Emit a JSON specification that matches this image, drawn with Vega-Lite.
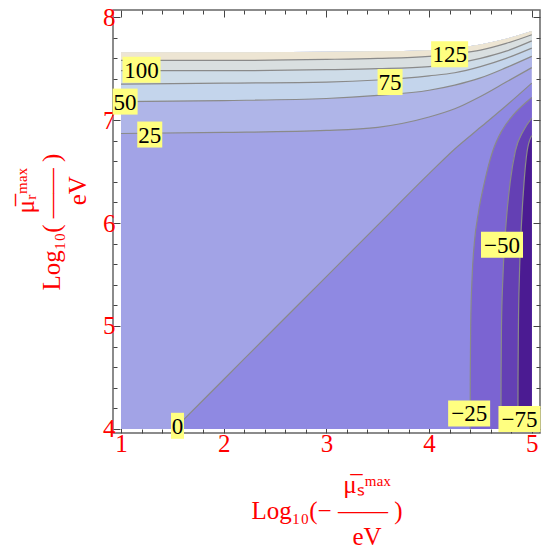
{
  "$schema": "https://vega.github.io/schema/vega-lite/v6.json",
  "width": 427,
  "height": 423,
  "autosize": {"type": "none"},
  "padding": {"left": 113, "top": 10, "right": 5, "bottom": 117},
  "background": "white",
  "config": {
    "view": {"stroke": "#666666", "strokeWidth": 1.5},
    "axis": {"grid": false, "labelFlush": false, "labelOverlap": false, "labelBound": false}
  },
  "resolve": {"axis": {"x": "independent", "y": "independent"}},
  "datasets": {
    "v": [
      {"band": 0, "x": 1, "lo": 4, "hi": 7.66},
      {"band": 0, "x": 2, "lo": 4, "hi": 7.66},
      {"band": 0, "x": 3, "lo": 4, "hi": 7.665},
      {"band": 0, "x": 3.5, "lo": 4, "hi": 7.67},
      {"band": 0, "x": 4, "lo": 4, "hi": 7.68},
      {"band": 0, "x": 4.25, "lo": 4, "hi": 7.70},
      {"band": 0, "x": 4.5, "lo": 4, "hi": 7.735},
      {"band": 0, "x": 4.75, "lo": 4, "hi": 7.79},
      {"band": 0, "x": 5, "lo": 4, "hi": 7.865},
      {"band": 25, "x": 1, "lo": 6.87, "hi": 7.66},
      {"band": 25, "x": 2, "lo": 6.88, "hi": 7.66},
      {"band": 25, "x": 3, "lo": 6.90, "hi": 7.665},
      {"band": 25, "x": 3.5, "lo": 6.93, "hi": 7.67},
      {"band": 25, "x": 4, "lo": 7.03, "hi": 7.68},
      {"band": 25, "x": 4.25, "lo": 7.11, "hi": 7.70},
      {"band": 25, "x": 4.5, "lo": 7.23, "hi": 7.735},
      {"band": 25, "x": 4.75, "lo": 7.37, "hi": 7.79},
      {"band": 25, "x": 5, "lo": 7.51, "hi": 7.865},
      {"band": 50, "x": 1, "lo": 7.18, "hi": 7.66},
      {"band": 50, "x": 2, "lo": 7.19, "hi": 7.66},
      {"band": 50, "x": 3, "lo": 7.21, "hi": 7.665},
      {"band": 50, "x": 3.5, "lo": 7.24, "hi": 7.67},
      {"band": 50, "x": 4, "lo": 7.29, "hi": 7.68},
      {"band": 50, "x": 4.25, "lo": 7.34, "hi": 7.70},
      {"band": 50, "x": 4.5, "lo": 7.41, "hi": 7.735},
      {"band": 50, "x": 4.75, "lo": 7.51, "hi": 7.79},
      {"band": 50, "x": 5, "lo": 7.62, "hi": 7.865},
      {"band": 75, "x": 1, "lo": 7.35, "hi": 7.66},
      {"band": 75, "x": 2, "lo": 7.36, "hi": 7.66},
      {"band": 75, "x": 3, "lo": 7.37, "hi": 7.665},
      {"band": 75, "x": 3.5, "lo": 7.39, "hi": 7.67},
      {"band": 75, "x": 4, "lo": 7.43, "hi": 7.68},
      {"band": 75, "x": 4.25, "lo": 7.46, "hi": 7.70},
      {"band": 75, "x": 4.5, "lo": 7.52, "hi": 7.735},
      {"band": 75, "x": 4.75, "lo": 7.60, "hi": 7.79},
      {"band": 75, "x": 5, "lo": 7.70, "hi": 7.865},
      {"band": 100, "x": 1, "lo": 7.48, "hi": 7.66},
      {"band": 100, "x": 2, "lo": 7.48, "hi": 7.66},
      {"band": 100, "x": 3, "lo": 7.49, "hi": 7.665},
      {"band": 100, "x": 3.5, "lo": 7.50, "hi": 7.67},
      {"band": 100, "x": 4, "lo": 7.52, "hi": 7.68},
      {"band": 100, "x": 4.25, "lo": 7.55, "hi": 7.70},
      {"band": 100, "x": 4.5, "lo": 7.60, "hi": 7.735},
      {"band": 100, "x": 4.75, "lo": 7.67, "hi": 7.79},
      {"band": 100, "x": 5, "lo": 7.77, "hi": 7.865},
      {"band": 125, "x": 1, "lo": 7.58, "hi": 7.66},
      {"band": 125, "x": 2, "lo": 7.58, "hi": 7.66},
      {"band": 125, "x": 3, "lo": 7.59, "hi": 7.665},
      {"band": 125, "x": 3.5, "lo": 7.60, "hi": 7.67},
      {"band": 125, "x": 4, "lo": 7.62, "hi": 7.68},
      {"band": 125, "x": 4.25, "lo": 7.645, "hi": 7.70},
      {"band": 125, "x": 4.5, "lo": 7.68, "hi": 7.735},
      {"band": 125, "x": 4.75, "lo": 7.745, "hi": 7.79},
      {"band": 125, "x": 5, "lo": 7.83, "hi": 7.865},
      {"band": -25, "x": 1.52, "lo": 4, "hi": 4.0},
      {"band": -25, "x": 2, "lo": 4, "hi": 4.48},
      {"band": -25, "x": 2.5, "lo": 4, "hi": 4.98},
      {"band": -25, "x": 3, "lo": 4, "hi": 5.48},
      {"band": -25, "x": 3.5, "lo": 4, "hi": 5.98},
      {"band": -25, "x": 4, "lo": 4, "hi": 6.48},
      {"band": -25, "x": 4.25, "lo": 4, "hi": 6.72},
      {"band": -25, "x": 4.5, "lo": 4, "hi": 6.93},
      {"band": -25, "x": 4.75, "lo": 4, "hi": 7.14},
      {"band": -25, "x": 5, "lo": 4, "hi": 7.36}
    ],
    "h": [
      {"band": -50, "y": 4.0, "x": 4.400},
      {"band": -50, "y": 4.5, "x": 4.401},
      {"band": -50, "y": 5.0, "x": 4.405},
      {"band": -50, "y": 5.5, "x": 4.42},
      {"band": -50, "y": 5.8, "x": 4.44},
      {"band": -50, "y": 6.1, "x": 4.48},
      {"band": -50, "y": 6.4, "x": 4.54},
      {"band": -50, "y": 6.7, "x": 4.62},
      {"band": -50, "y": 6.9, "x": 4.71},
      {"band": -50, "y": 7.05, "x": 4.82},
      {"band": -50, "y": 7.22, "x": 5.0},
      {"band": -75, "y": 4.0, "x": 4.700},
      {"band": -75, "y": 4.5, "x": 4.701},
      {"band": -75, "y": 5.0, "x": 4.705},
      {"band": -75, "y": 5.5, "x": 4.72},
      {"band": -75, "y": 6.0, "x": 4.75},
      {"band": -75, "y": 6.4, "x": 4.79},
      {"band": -75, "y": 6.7, "x": 4.84},
      {"band": -75, "y": 6.9, "x": 4.92},
      {"band": -75, "y": 7.02, "x": 5.0},
      {"band": -100, "y": 4.0, "x": 4.865},
      {"band": -100, "y": 4.5, "x": 4.866},
      {"band": -100, "y": 5.0, "x": 4.87},
      {"band": -100, "y": 5.5, "x": 4.88},
      {"band": -100, "y": 6.0, "x": 4.90},
      {"band": -100, "y": 6.4, "x": 4.925},
      {"band": -100, "y": 6.7, "x": 4.955},
      {"band": -100, "y": 6.85, "x": 5.0}
    ],
    "labels": [
      {"label": "125", "x": 4.20, "y": 7.64},
      {"label": "100", "x": 1.20, "y": 7.49},
      {"label": "75", "x": 3.62, "y": 7.37},
      {"label": "50", "x": 1.04, "y": 7.18},
      {"label": "25", "x": 1.28, "y": 6.86},
      {"label": "0", "x": 1.55, "y": 4.03},
      {"label": "−25", "x": 4.39, "y": 4.15},
      {"label": "−50", "x": 4.71, "y": 5.79},
      {"label": "−75", "x": 4.88, "y": 4.095}
    ]
  },
  "layer": [
    {
      "data": {"name": "v"},
      "transform": [{"filter": "datum.band == 0"}],
      "mark": {"type": "area", "interpolate": "monotone", "color": "#a2a3e6", "opacity": 1},
      "encoding": {
        "x": {"field": "x", "type": "quantitative", "scale": {"domain": [0.922, 5.08], "nice": false, "zero": false},
          "axis": {"orient": "bottom", "values": [1, 2, 3, 4, 5], "format": "d", "domain": false, "tickSize": -7, "tickColor": "#444444", "tickWidth": 1,
            "labelColor": "#ff0000", "labelFont": "Liberation Serif, Times New Roman, Times, serif", "labelFontSize": 25, "labelPadding": 5,
            "title": ["\u200d\u2003\u2003\u2003\u2009μ̅ₛᵐᵃˣ", "Log₁₀(− —— )", "\u200d\u2003\u2003\u2003\u2009eV"],
            "titleColor": "#ff0000", "titleFont": "Liberation Serif, Times New Roman, Times, serif", "titleFontSize": 25, "titleFontWeight": "normal", "titleLineHeight": 26, "titlePadding": 16}},
        "y": {"field": "hi", "type": "quantitative", "scale": {"domain": [3.96, 8.07], "nice": false, "zero": false},
          "axis": {"orient": "left", "values": [4, 5, 6, 7, 8], "format": "d", "domain": false, "tickSize": -7, "tickColor": "#444444", "tickWidth": 1,
            "labelColor": "#ff0000", "labelFont": "Liberation Serif, Times New Roman, Times, serif", "labelFontSize": 25, "labelPadding": 5,
            "title": ["\u200d\u2003\u2003\u2002μ̅ᵣᵐᵃˣ", "Log₁₀( —— )", "\u200d\u2003\u2003\u2002eV"],
            "titleColor": "#ff0000", "titleFont": "Liberation Serif, Times New Roman, Times, serif", "titleFontSize": 25, "titleFontWeight": "normal", "titleLineHeight": 26, "titlePadding": 12}},
        "y2": {"field": "lo"}
      }
    },
    {
      "data": {"name": "v"},
      "transform": [{"filter": "datum.band == 25"}],
      "mark": {"type": "area", "interpolate": "monotone", "color": "#afb5e8", "opacity": 1},
      "encoding": {
        "x": {"field": "x", "type": "quantitative", "scale": {"domain": [0.922, 5.08], "nice": false, "zero": false},
          "axis": {"orient": "bottom", "values": [1.2, 1.4, 1.6, 1.8, 2.2, 2.4, 2.6, 2.8, 3.2, 3.4, 3.6, 3.8, 4.2, 4.4, 4.6, 4.8], "labels": false, "domain": false, "tickSize": -4, "tickColor": "#444444", "tickWidth": 1, "title": null}},
        "y": {"field": "hi", "type": "quantitative", "scale": {"domain": [3.96, 8.07], "nice": false, "zero": false},
          "axis": {"orient": "left", "values": [4.2, 4.4, 4.6, 4.8, 5.2, 5.4, 5.6, 5.8, 6.2, 6.4, 6.6, 6.8, 7.2, 7.4, 7.6, 7.8], "labels": false, "domain": false, "tickSize": -4, "tickColor": "#444444", "tickWidth": 1, "title": null}},
        "y2": {"field": "lo"}
      }
    },
    {
      "data": {"name": "v"},
      "transform": [{"filter": "datum.band == 50"}],
      "mark": {"type": "area", "interpolate": "monotone", "color": "#c4d5ec", "opacity": 1},
      "encoding": {
        "x": {"field": "x", "type": "quantitative", "scale": {"domain": [0.922, 5.08], "nice": false, "zero": false},
          "axis": {"orient": "top", "values": [1, 2, 3, 4, 5], "labels": false, "domain": false, "tickSize": -7, "tickColor": "#444444", "tickWidth": 1, "title": null}},
        "y": {"field": "hi", "type": "quantitative", "scale": {"domain": [3.96, 8.07], "nice": false, "zero": false},
          "axis": {"orient": "right", "values": [4, 5, 6, 7, 8], "labels": false, "domain": false, "tickSize": -7, "tickColor": "#444444", "tickWidth": 1, "title": null}},
        "y2": {"field": "lo"}
      }
    },
    {
      "data": {"name": "v"},
      "transform": [{"filter": "datum.band == 75"}],
      "mark": {"type": "area", "interpolate": "monotone", "color": "#cedce8", "opacity": 1},
      "encoding": {
        "x": {"field": "x", "type": "quantitative", "scale": {"domain": [0.922, 5.08], "nice": false, "zero": false},
          "axis": {"orient": "top", "values": [1.2, 1.4, 1.6, 1.8, 2.2, 2.4, 2.6, 2.8, 3.2, 3.4, 3.6, 3.8, 4.2, 4.4, 4.6, 4.8], "labels": false, "domain": false, "tickSize": -4, "tickColor": "#444444", "tickWidth": 1, "title": null}},
        "y": {"field": "hi", "type": "quantitative", "scale": {"domain": [3.96, 8.07], "nice": false, "zero": false},
          "axis": {"orient": "right", "values": [4.2, 4.4, 4.6, 4.8, 5.2, 5.4, 5.6, 5.8, 6.2, 6.4, 6.6, 6.8, 7.2, 7.4, 7.6, 7.8], "labels": false, "domain": false, "tickSize": -4, "tickColor": "#444444", "tickWidth": 1, "title": null}},
        "y2": {"field": "lo"}
      }
    },
    {
      "data": {"name": "v"},
      "transform": [{"filter": "datum.band == 100"}],
      "mark": {"type": "area", "interpolate": "monotone", "color": "#d9dfe0", "opacity": 1},
      "encoding": {
        "x": {"field": "x", "type": "quantitative", "scale": {"domain": [0.922, 5.08], "nice": false, "zero": false}, "axis": null},
        "y": {"field": "hi", "type": "quantitative", "scale": {"domain": [3.96, 8.07], "nice": false, "zero": false}, "axis": null},
        "y2": {"field": "lo"}
      }
    },
    {
      "data": {"name": "v"},
      "transform": [{"filter": "datum.band == 125"}],
      "mark": {"type": "area", "interpolate": "monotone", "color": "#ede5d3", "opacity": 1},
      "encoding": {
        "x": {"field": "x", "type": "quantitative", "scale": {"domain": [0.922, 5.08], "nice": false, "zero": false}, "axis": null},
        "y": {"field": "hi", "type": "quantitative", "scale": {"domain": [3.96, 8.07], "nice": false, "zero": false}, "axis": null},
        "y2": {"field": "lo"}
      }
    },
    {
      "data": {"name": "v"},
      "transform": [{"filter": "datum.band == -25"}],
      "mark": {"type": "area", "interpolate": "monotone", "color": "#8f89e2", "opacity": 1},
      "encoding": {
        "x": {"field": "x", "type": "quantitative", "scale": {"domain": [0.922, 5.08], "nice": false, "zero": false}, "axis": null},
        "y": {"field": "hi", "type": "quantitative", "scale": {"domain": [3.96, 8.07], "nice": false, "zero": false}, "axis": null},
        "y2": {"field": "lo"}
      }
    },
    {
      "data": {"name": "h"},
      "transform": [{"filter": "datum.band == -50"}],
      "mark": {"type": "area", "orient": "horizontal", "interpolate": "monotone", "color": "#7b64d2", "opacity": 1},
      "encoding": {
        "y": {"field": "y", "type": "quantitative", "scale": {"domain": [3.96, 8.07], "nice": false, "zero": false}, "axis": null},
        "x": {"field": "x", "type": "quantitative", "scale": {"domain": [0.922, 5.08], "nice": false, "zero": false}, "axis": null},
        "x2": {"datum": 5}
      }
    },
    {
      "data": {"name": "h"},
      "transform": [{"filter": "datum.band == -75"}],
      "mark": {"type": "area", "orient": "horizontal", "interpolate": "monotone", "color": "#6440b4", "opacity": 1},
      "encoding": {
        "y": {"field": "y", "type": "quantitative", "scale": {"domain": [3.96, 8.07], "nice": false, "zero": false}, "axis": null},
        "x": {"field": "x", "type": "quantitative", "scale": {"domain": [0.922, 5.08], "nice": false, "zero": false}, "axis": null},
        "x2": {"datum": 5}
      }
    },
    {
      "data": {"name": "h"},
      "transform": [{"filter": "datum.band == -100"}],
      "mark": {"type": "area", "orient": "horizontal", "interpolate": "monotone", "color": "#4b1b92", "opacity": 1},
      "encoding": {
        "y": {"field": "y", "type": "quantitative", "scale": {"domain": [3.96, 8.07], "nice": false, "zero": false}, "axis": null},
        "x": {"field": "x", "type": "quantitative", "scale": {"domain": [0.922, 5.08], "nice": false, "zero": false}, "axis": null},
        "x2": {"datum": 5}
      }
    },
    {
      "data": {"name": "v"},
      "transform": [{"filter": "datum.band >= 25"}],
      "mark": {"type": "line", "interpolate": "monotone", "color": "#8a8a8a", "strokeWidth": 1.2},
      "encoding": {
        "x": {"field": "x", "type": "quantitative", "scale": {"domain": [0.922, 5.08], "nice": false, "zero": false}, "axis": null},
        "y": {"field": "lo", "type": "quantitative", "scale": {"domain": [3.96, 8.07], "nice": false, "zero": false}, "axis": null},
        "detail": {"field": "band", "type": "nominal"}
      }
    },
    {
      "data": {"name": "v"},
      "transform": [{"filter": "datum.band == -25"}],
      "mark": {"type": "line", "interpolate": "monotone", "color": "#8a8a8a", "strokeWidth": 1.2},
      "encoding": {
        "x": {"field": "x", "type": "quantitative", "scale": {"domain": [0.922, 5.08], "nice": false, "zero": false}, "axis": null},
        "y": {"field": "hi", "type": "quantitative", "scale": {"domain": [3.96, 8.07], "nice": false, "zero": false}, "axis": null}
      }
    },
    {
      "data": {"name": "h"},
      "mark": {"type": "line", "interpolate": "monotone", "color": "#8a8a8a", "strokeWidth": 1.2},
      "encoding": {
        "x": {"field": "x", "type": "quantitative", "scale": {"domain": [0.922, 5.08], "nice": false, "zero": false}, "axis": null},
        "y": {"field": "y", "type": "quantitative", "scale": {"domain": [3.96, 8.07], "nice": false, "zero": false}, "axis": null},
        "detail": {"field": "band", "type": "nominal"}
      }
    },
    {
      "data": {"name": "labels"},
      "mark": {"type": "point", "filled": true, "size": 400, "color": "#ffff80", "opacity": 1, "strokeWidth": 0},
      "encoding": {
        "x": {"field": "x", "type": "quantitative", "scale": {"domain": [0.922, 5.08], "nice": false, "zero": false}, "axis": null},
        "y": {"field": "y", "type": "quantitative", "scale": {"domain": [3.96, 8.07], "nice": false, "zero": false}, "axis": null},
        "shape": {"field": "label", "type": "nominal", "legend": null,
          "scale": {"domain": ["0", "25", "50", "75", "100", "125", "−25", "−50", "−75"],
            "range": ["M-0.65,-1.3H0.65V1.3H-0.65Z", "M-1.25,-1.3H1.25V1.3H-1.25Z", "M-1.25,-1.3H1.25V1.3H-1.25Z", "M-1.25,-1.3H1.25V1.3H-1.25Z", "M-1.9,-1.3H1.9V1.3H-1.9Z", "M-1.85,-1.3H1.85V1.3H-1.85Z", "M-2.1,-1.3H2.1V1.3H-2.1Z", "M-2.1,-1.3H2.1V1.3H-2.1Z", "M-2.1,-1.3H2.1V1.3H-2.1Z"]}}
      }
    },
    {
      "data": {"name": "labels"},
      "mark": {"type": "text", "font": "Liberation Serif, Times New Roman, Times, serif", "fontSize": 23, "color": "#000000", "align": "center", "baseline": "middle", "dy": 1},
      "encoding": {
        "x": {"field": "x", "type": "quantitative", "scale": {"domain": [0.922, 5.08], "nice": false, "zero": false}, "axis": null},
        "y": {"field": "y", "type": "quantitative", "scale": {"domain": [3.96, 8.07], "nice": false, "zero": false}, "axis": null},
        "text": {"field": "label", "type": "nominal"}
      }
    }
  ]
}
